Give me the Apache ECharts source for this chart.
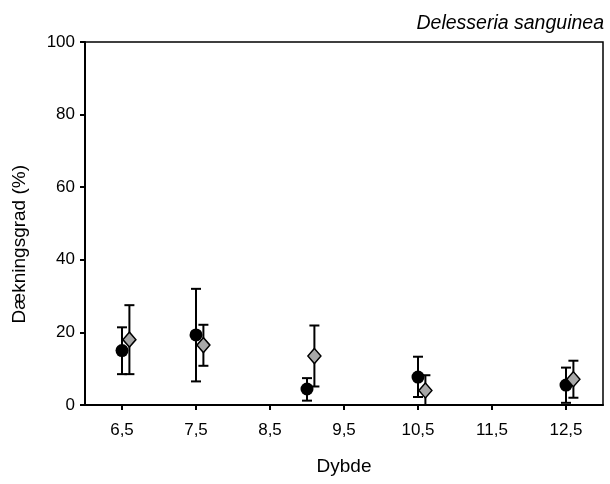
<!DOCTYPE html>
<html>
<head>
<meta charset="utf-8">
<script src="https://cdn.jsdelivr.net/npm/echarts@6/dist/echarts.min.js"></script>
<style>html,body{margin:0;padding:0;background:#fff}#c{width:610px;height:484px}</style>
</head>
<body>
<div id="c"></div>
<script>
// Data
var xTicks = [6.5, 7.5, 8.5, 9.5, 10.5, 11.5, 12.5];
var yTicks = [0, 20, 40, 60, 80, 100];
var circleX = [6.5, 7.5, 9.0, 10.5, 12.5];
var circleMean = [15.0, 19.3, 4.4, 7.7, 5.5];
var circleLow = [8.5, 6.5, 1.2, 2.2, 0.6];
var circleHigh = [21.4, 32.0, 7.4, 13.3, 10.3];
var diamondX = [6.6, 7.6, 9.1, 10.6, 12.6];
var diamondMean = [18.0, 16.5, 13.5, 4.0, 7.1];
var diamondLow = [8.5, 10.8, 5.1, 0, 2.0];
var diamondHigh = [27.5, 22.1, 21.9, 8.2, 12.2];

var font = 'Liberation Sans, Arial, sans-serif';

function zip(xs, ys) { return xs.map(function (x, i) { return [x, ys[i]]; }); }
function errData(xs, lo, hi) { return xs.map(function (x, i) { return [x, lo[i], hi[i]]; }); }

function errRender(params, api) {
  var x = api.value(0);
  var lo = api.coord([x, api.value(1)]);
  var hi = api.coord([x, api.value(2)]);
  var hw = 5;
  var st = { stroke: '#000', lineWidth: 2 };
  return {
    type: 'group',
    children: [
      { type: 'line', shape: { x1: lo[0], y1: lo[1], x2: hi[0], y2: hi[1] }, style: st },
      { type: 'line', shape: { x1: hi[0] - hw, y1: hi[1], x2: hi[0] + hw, y2: hi[1] }, style: st },
      { type: 'line', shape: { x1: lo[0] - hw, y1: lo[1], x2: lo[0] + hw, y2: lo[1] }, style: st }
    ]
  };
}

var chart = echarts.init(document.getElementById('c'), null, { renderer: 'canvas' });
chart.setOption({
  animation: false,
  backgroundColor: '#fff',
  title: {
    text: 'Delesseria sanguinea',
    right: 1, top: 9,
    textStyle: { fontFamily: font, fontStyle: 'italic', fontWeight: 'normal', fontSize: 19.5, color: '#000' }
  },
  graphic: [{
    type: 'text', left: 10, top: 165, rotation: Math.PI / 2,
    style: { text: 'Dækningsgrad (%)', font: '19px ' + font, fill: '#000' }
  }],
  grid: {
    left: 85, right: 7, top: 42, bottom: 79,
    outerBoundsMode: 'none', containLabel: false,
    show: true, borderColor: '#000', borderWidth: 1.5, backgroundColor: 'transparent'
  },
  xAxis: {
    type: 'value', min: 6, max: 13,
    name: 'Dybde', nameLocation: 'middle', nameGap: 52,
    nameTextStyle: { fontFamily: font, fontSize: 19, color: '#000' },
    splitLine: { show: false },
    axisLine: { show: true, lineStyle: { color: '#000', width: 2 } },
    axisTick: { show: true, length: 5, customValues: xTicks, lineStyle: { color: '#000', width: 2 } },
    axisLabel: {
      customValues: xTicks, margin: 17,
      fontFamily: font, fontSize: 17, color: '#000',
      formatter: function (v) { return String(v).replace('.', ','); }
    }
  },
  yAxis: {
    type: 'value', min: 0, max: 100, interval: 20,
    splitLine: { show: false },
    axisLine: { show: true, lineStyle: { color: '#000', width: 2 } },
    axisTick: { show: true, length: 5, lineStyle: { color: '#000', width: 2 } },
    axisLabel: { margin: 10, fontFamily: font, fontSize: 17, color: '#000',
      formatter: function (v) { return yTicks.indexOf(v) >= 0 ? String(v) : ''; } }
  },
  series: [
    { type: 'custom', renderItem: errRender, data: errData(circleX, circleLow, circleHigh), z: 2, clip: false },
    { type: 'custom', renderItem: errRender, data: errData(diamondX, diamondLow, diamondHigh), z: 2, clip: false },
    {
      type: 'scatter', data: zip(circleX, circleMean), symbol: 'circle', symbolSize: 13, z: 3,
      itemStyle: { color: '#000', opacity: 1 }
    },
    {
      type: 'scatter', data: zip(diamondX, diamondMean), symbol: 'diamond', symbolSize: [13, 15], z: 4,
      itemStyle: { color: '#a8a8a8', borderColor: '#000', borderWidth: 1.5, opacity: 1 }
    }
  ]
});
</script>
</body>
</html>
